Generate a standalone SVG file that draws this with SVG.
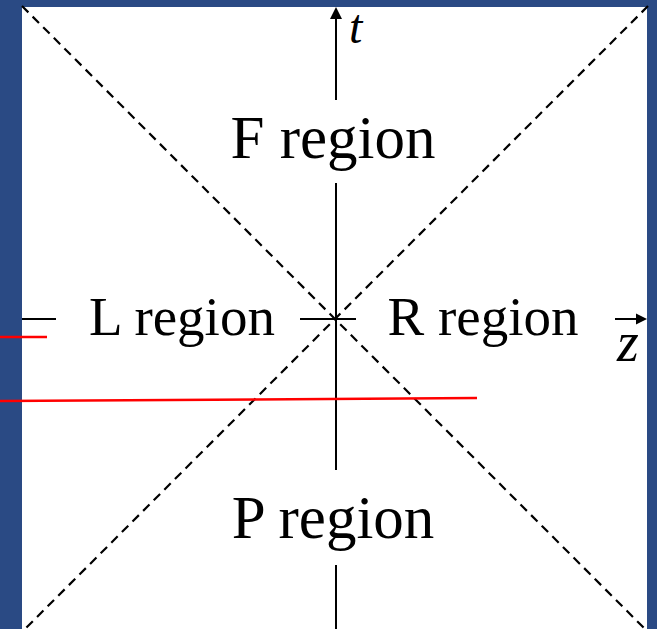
<svg xmlns="http://www.w3.org/2000/svg" width="657" height="629" viewBox="0 0 657 629">
<defs>
<style>
.bg{fill:#2a4a84}
.panel{fill:#ffffff}
.dash{stroke:#000;stroke-width:2.2;stroke-dasharray:9,6;fill:none}
.axis{stroke:#000;stroke-width:2;fill:none}
.head{fill:#000}
.lbl{font-family:"Liberation Serif","Times New Roman",serif;fill:#000;text-anchor:middle}
.var{font-family:"Liberation Serif","Times New Roman",serif;font-style:italic;fill:#000}
.red{stroke:#ff0000;stroke-width:2.5;fill:none}
</style>
</defs>
<rect class="bg" x="0" y="0" width="657" height="629"/>
<rect class="panel" x="22" y="7" width="625" height="622"/>
<g id="connectors">
<line class="dash" x1="22" y1="6" x2="645" y2="629"/>
<line class="dash" x1="648" y1="6" x2="25" y2="629"/>
<line class="axis" x1="336" y1="16" x2="336" y2="100"/>
<line class="axis" x1="336" y1="183" x2="336" y2="470"/>
<line class="axis" x1="336" y1="565" x2="336" y2="629"/>
<polygon class="head" points="336,7 330,19 342,19"/>
<line class="axis" x1="22" y1="319" x2="56" y2="319"/>
<line class="axis" x1="300" y1="319" x2="356" y2="319"/>
<line class="axis" x1="615" y1="319" x2="638" y2="319"/>
<polygon class="head" points="647,319 636,313.5 636,324.5"/>
</g>
<g id="F"><text class="lbl" x="333" y="158" font-size="61">F region</text></g>
<g id="P"><text class="lbl" x="333" y="538" font-size="61">P region</text></g>
<g id="L"><text class="lbl" x="182" y="335" font-size="55">L region</text></g>
<g id="R"><text class="lbl" x="483" y="335" font-size="55">R region</text></g>
<g id="t-label"><text class="var" x="349" y="43" font-size="48">t</text></g>
<g id="z-label"><text class="var" x="617" y="361" font-size="56">z</text></g>
<g id="red-lines">
<line class="red" x1="0" y1="337" x2="47" y2="337"/>
<line class="red" x1="0" y1="401" x2="477" y2="398"/>
</g>
</svg>
